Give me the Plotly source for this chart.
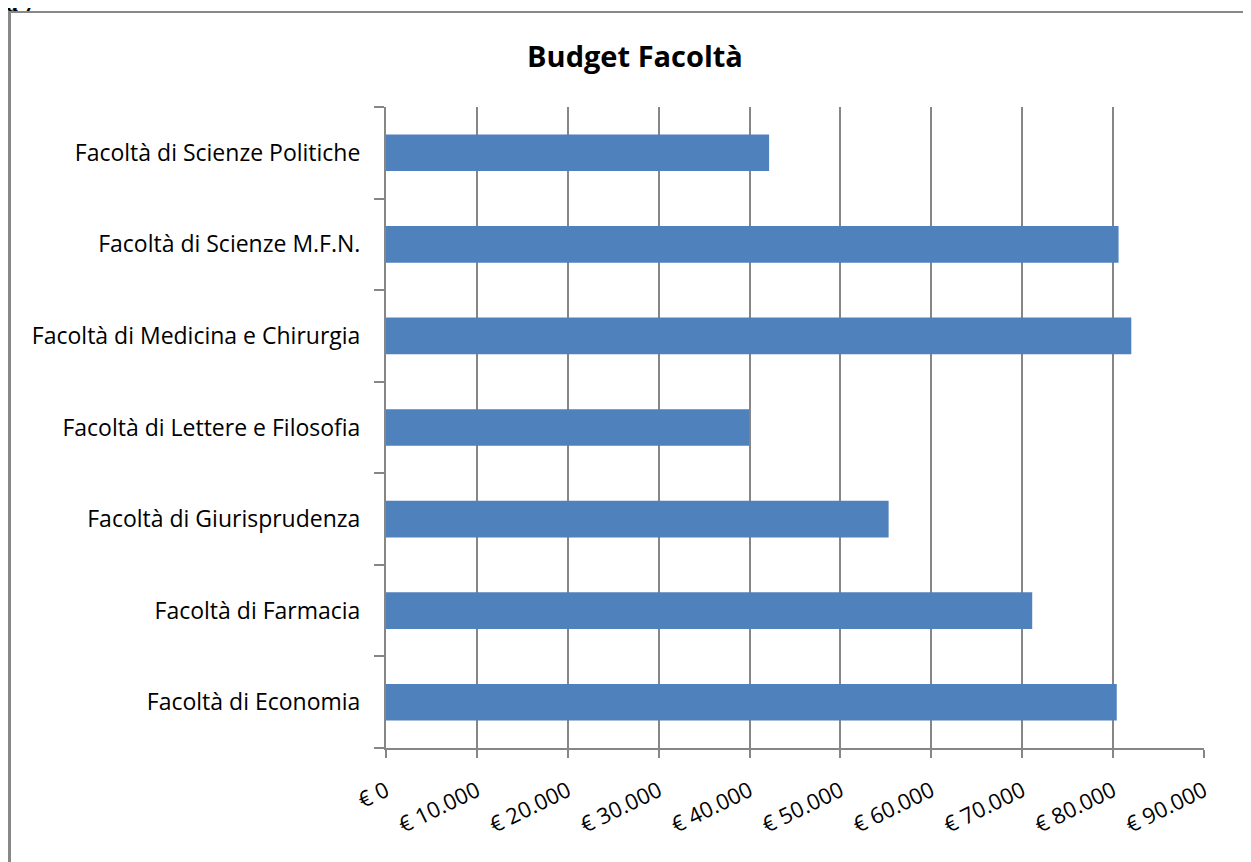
import plotly.graph_objects as go

categories = [
    "Facoltà di Economia",
    "Facoltà di Farmacia",
    "Facoltà di Giurisprudenza",
    "Facoltà di Lettere e Filosofia",
    "Facoltà di Medicina e Chirurgia",
    "Facoltà di Scienze M.F.N.",
    "Facoltà di Scienze Politiche",
]
budget = [80400, 71100, 55300, 39950, 82000, 80600, 42150]

tick_values = [0, 10000, 20000, 30000, 40000, 50000, 60000, 70000, 80000, 90000]
tick_labels = ["€ 0", "€ 10.000", "€ 20.000", "€ 30.000", "€ 40.000",
               "€ 50.000", "€ 60.000", "€ 70.000", "€ 80.000", "€ 90.000"]

W, H = 1251, 862
OFF = 8  # page body margin
L, R, T, B = 386 - OFF, 1204 - OFF, 107 - OFF, 748 - OFF
pw, ph = R - L, B - T

def px(x):  # page pixel -> paper
    return (x - OFF - L) / pw

def py(y):
    return 1 - (y - OFF - T) / ph

FONT = "Open Sans"
GRID = "#868686"

fig = go.Figure(go.Bar(
    x=budget, y=categories, orientation="h",
    marker=dict(color="#4F81BD", line=dict(width=0)),
    width=0.4,
))

fig.update_layout(
    width=W, height=H,
    margin=dict(l=L, r=W - R, t=T, b=H - B),
    paper_bgcolor="white", plot_bgcolor="white",
    showlegend=False,
    font=dict(family=FONT, color="#000000"),
    title=dict(text="<b>Budget Facoltà</b>", x=(635 - OFF) / W, xanchor="center",
               y=1 - (57 - OFF) / H, yanchor="middle",
               font=dict(family=FONT, size=29, color="#000000")),
    xaxis=dict(
        range=[0, 90000], tickvals=tick_values, ticktext=tick_labels,
        tickangle=-26, tickfont=dict(family=FONT, size=22, color="#000000"),
        ticklabelstandoff=12,
        showgrid=True, gridcolor=GRID, gridwidth=1.5,
        showline=True, linecolor=GRID, linewidth=1.5,
        ticks="outside", ticklen=8, tickcolor=GRID, tickwidth=1.5,
        zeroline=False, fixedrange=True,
    ),
    yaxis=dict(
        categoryorder="array", categoryarray=categories,
        tickson="boundaries", ticks="outside", ticklen=10,
        tickcolor=GRID, tickwidth=1.5,
        showgrid=False, showline=True, linecolor=GRID, linewidth=2,
        tickfont=dict(family=FONT, size=23, color="#000000"),
        ticklabelstandoff=19,
        zeroline=False, fixedrange=True,
    ),
    shapes=[
        dict(type="line", xref="paper", yref="paper",
             x0=px(9.5), x1=px(9.5), y0=py(12), y1=py(880),
             line=dict(color="#888888", width=3)),
        dict(type="line", xref="paper", yref="paper",
             x0=px(8), x1=px(1270), y0=py(12), y1=py(12),
             line=dict(color="#888888", width=2)),
    ],
    annotations=[
        dict(text="<b>ta 7</b>", xref="paper", yref="paper",
             x=px(-4), y=py(18), xanchor="left", yanchor="bottom",
             showarrow=False,
             font=dict(family="Liberation Serif", size=24, color="#000000")),
    ],
)

fig.write_html("out.html")
